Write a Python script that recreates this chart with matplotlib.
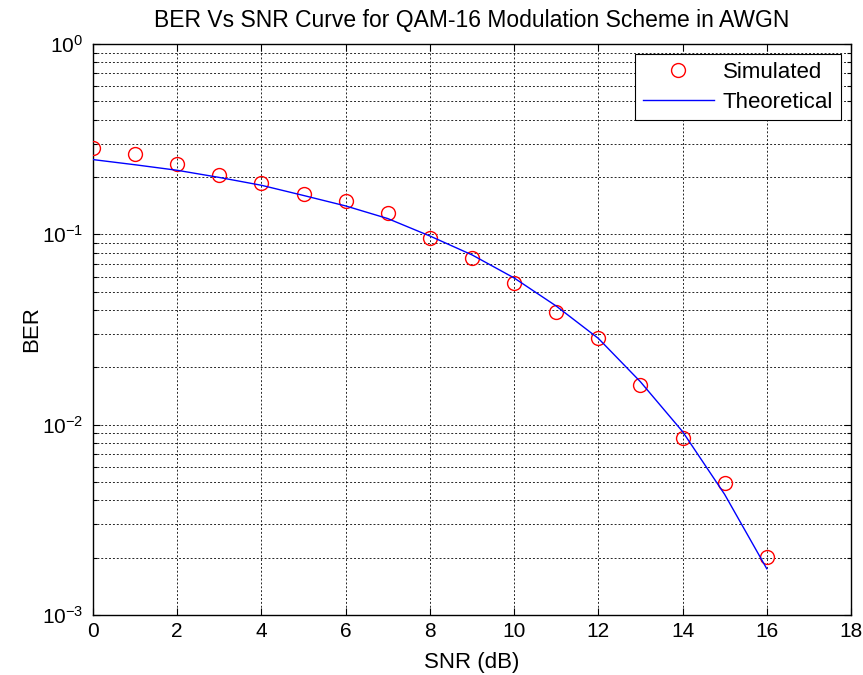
import matplotlib
matplotlib.use("Agg")
import matplotlib.pyplot as plt
from matplotlib.ticker import LogLocator, NullFormatter

plt.rcParams['font.family'] = ['Liberation Sans', 'DejaVu Sans']
plt.rcParams['mathtext.default'] = 'regular'

snr_db = [0, 1, 2, 3, 4, 5, 6, 7, 8, 9, 10, 11, 12, 13, 14, 15, 16]
ber_simulated = [0.285, 0.264, 0.234, 0.206, 0.187, 0.162, 0.150, 0.130, 0.096,
                 0.075, 0.0556, 0.0392, 0.0284, 0.0161, 0.00848, 0.00491, 0.00202]
ber_theoretical = [0.247, 0.232, 0.217, 0.199, 0.181, 0.160, 0.141, 0.121, 0.098,
                   0.078, 0.059, 0.042, 0.0284, 0.0168, 0.0092, 0.0043, 0.00175]
x_ticks = [0, 2, 4, 6, 8, 10, 12, 14, 16, 18]

fig = plt.figure(figsize=(8.63, 6.75), dpi=100)
ax = fig.add_axes([93/863, 60/675, 758/863, 571/675])

ax.semilogy(snr_db, ber_simulated, 'o', mfc='none', mec='red', ms=10, mew=1.0,
            label='Simulated', zorder=3)
ax.semilogy(snr_db, ber_theoretical, '-', color='blue', lw=1.0,
            label='Theoretical', zorder=3)

ax.set_xlim(0, 18)
ax.set_ylim(1e-3, 1e0)
ax.set_xticks(x_ticks)
ax.yaxis.set_major_locator(LogLocator(base=10, numticks=10))
ax.yaxis.set_minor_locator(LogLocator(base=10, subs=range(2, 10), numticks=20))
ax.yaxis.set_minor_formatter(NullFormatter())

grid_kw = dict(color='black', linestyle=(0, (2.0, 2.0)), linewidth=0.7, alpha=0.85)
ax.grid(True, which='major', axis='both', **grid_kw)
ax.grid(True, which='minor', axis='y', **grid_kw)
ax.set_axisbelow(True)

ax.tick_params(which='both', direction='in', top=True, right=True, labelsize=15,
               width=0.8)
ax.tick_params(axis='x', which='major', pad=5)
ax.tick_params(axis='y', which='major', pad=7)
ax.tick_params(which='major', length=5)
ax.tick_params(which='minor', length=3)
for s in ax.spines.values():
    s.set_linewidth(1.0)
    s.set_color('black')

ax.set_xlabel('SNR (dB)', fontsize=16, labelpad=8)
ax.set_ylabel('BER', fontsize=16, labelpad=0)
ax.set_title('BER Vs SNR Curve for QAM-16 Modulation Scheme in AWGN', fontsize=16.5,
             pad=12)

leg = ax.legend(loc='upper right', fontsize=16, fancybox=False, framealpha=1,
                edgecolor='black', borderaxespad=0.45, handlelength=3.2,
                handletextpad=0.4, labelspacing=0.4, borderpad=0.35)
leg.get_frame().set_linewidth(0.8)

fig.savefig('out.png', dpi=100)
